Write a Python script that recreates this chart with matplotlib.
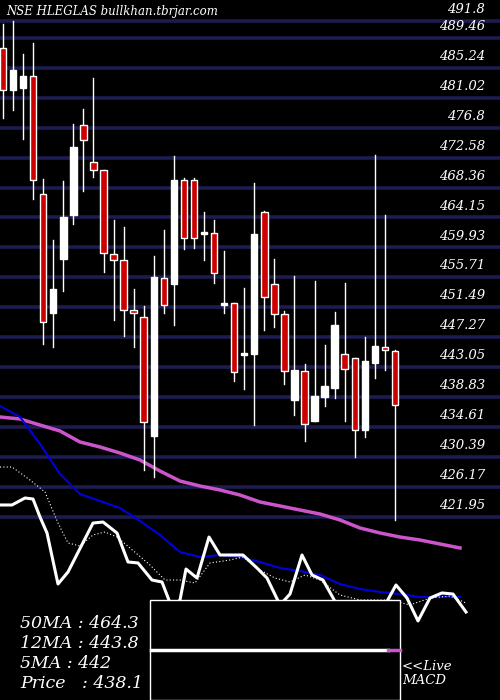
import numpy as np
import matplotlib
matplotlib.use("Agg")
import matplotlib.pyplot as plt
from matplotlib.patches import Rectangle

opens  = [488.00,482.09,482.37,484.06,467.45,450.71,458.31,464.50,477.16,471.96,470.83,459.01,458.17,451.13,450.15,433.40,455.63,454.79,469.42,469.42,
          461.83,461.97,451.84,452.12,444.80,444.94,464.92,454.79,450.57,438.47,442.55,435.51,438.89,440.16,444.94,444.38,434.25,443.68,445.93,445.36]
highs  = [491.37,491.80,487.15,488.70,469.56,460.98,469.28,477.30,479.41,483.78,470.83,463.80,462.81,454.09,451.70,458.73,462.39,472.80,469.71,469.71,
          464.92,463.80,459.43,452.12,454.23,469.00,465.06,458.31,450.99,455.92,443.54,455.21,446.21,450.85,454.93,444.38,447.34,472.94,464.50,445.50]
lows   = [478.15,479.27,475.19,466.75,446.35,445.93,453.81,463.23,467.88,469.85,456.48,449.73,447.47,445.93,428.62,427.64,450.71,449.02,459.72,459.86,
          458.17,454.93,450.71,441.14,440.02,434.95,448.32,448.74,440.72,436.36,432.70,435.51,437.63,438.75,435.51,430.45,433.26,441.57,442.69,421.59]
closes = [482.09,484.90,484.06,469.42,449.45,454.09,464.22,474.07,475.05,470.83,459.15,458.17,451.13,450.71,435.37,455.78,451.84,469.42,461.26,461.26,
          461.97,456.34,452.12,442.41,445.08,461.83,452.96,450.57,442.55,442.69,435.09,439.03,440.44,449.02,442.83,434.25,443.96,446.07,445.50,437.77]

ma50 = [436.08,435.80,434.95,434.11,432.56,431.86,431.01,430.03,428.48,427.07,426.37,425.81,425.10,424.12,423.56,422.99,422.43,421.59,420.46,419.76,419.19,418.77,418.21,417.65]
ma12 = [437.63,436.08,432.28,428.06,425.24,424.26,423.27,421.45,419.48,417.08,416.38,416.66,416.38,415.68,414.83,414.41,413.85,412.58,411.88,411.46,411.17,410.75,410.75,410.75]
white_px = [0,12,25,33,40,47,58,68,93,103,117,128,138,152,162,172,180,186,197,209,220,243,257,267,280,290,302,312,323,337,360,385,396,407,418,430,442,453,466]
white_v = [423.70,423.70,424.68,424.54,422.01,419.76,412.58,414.27,421.16,421.30,419.76,415.68,415.54,413.14,412.86,409.20,410.33,414.69,413.42,419.19,416.66,416.66,414.83,413.42,409.63,411.17,416.66,413.85,413.14,409.63,408.22,409.63,412.44,410.61,407.38,410.61,411.32,411.17,408.64]
dot_px = [0,12,30,45,58,68,80,93,105,117,130,150,165,180,195,210,230,243,260,275,290,305,320,340,360,390,410,430,450,466]
dot_v = [429.04,429.04,427.21,425.53,421.16,418.35,417.93,419.48,419.90,419.19,417.65,415.25,413.14,413.14,412.72,415.54,415.96,416.38,414.55,413.42,412.86,413.85,413.14,411.03,410.33,410.33,409.63,410.61,410.89,409.91]
grid_levels = [491.8,489.46,485.24,481.02,476.8,472.58,468.36,464.15,459.93,455.71,451.49,447.27,443.05,438.83,434.61,430.39,426.17,421.95]
grid_labels = ["491.8","489.46","485.24","481.02","476.8","472.58","468.36","464.15","459.93","455.71","451.49","447.27","443.05","438.83","434.61","430.39","426.17","421.95"]
info = ["50MA : 464.3","12MA : 443.8","5MA : 442","Price   : 438.1"]

PX = 10.05
def px2x(p):
    return (np.asarray(p) - 3) / PX

fig = plt.figure(figsize=(5,7), dpi=100, facecolor="black")
ax = fig.add_axes([0,0,1,1])
ax.set_facecolor("black")
ax.set_xlim(px2x(0), px2x(500))
ax.set_ylim(494.75-0.1407*700, 494.75)
ax.axis("off")

for g in grid_levels:
    ax.axhline(g, color="#1c1c50", lw=2.6, zorder=1)
for g, l in zip(grid_levels, grid_labels):
    ax.text(px2x(485), g+0.7, l, color="white", ha="right", va="bottom",
            fontsize=9.5, family="DejaVu Serif", style="italic", zorder=5)

ax.plot(np.linspace(px2x(0), px2x(460), len(ma50)), ma50, color="#cc55cc", lw=2.5, zorder=3)
ax.plot(np.linspace(px2x(0), px2x(460), len(ma12)), ma12, color="#0000dd", lw=1.5, zorder=3)
ax.plot(px2x(dot_px), dot_v, color="white", lw=0.8, ls=(0,(1,2)), zorder=3)
ax.plot(px2x(white_px), white_v, color="white", lw=2.2, zorder=3)

for i,(o,h,l,c) in enumerate(zip(opens,highs,lows,closes)):
    ax.plot([i,i],[l,h], color="white", lw=1, zorder=4)
    fc = "white" if c >= o else "#cc0000"
    lo, hi = min(o,c), max(o,c)
    ax.add_patch(Rectangle((i-0.32, lo), 0.64, max(hi-lo,0.25), facecolor=fc,
                           edgecolor="white", lw=1, zorder=4))

fig.text(0.012, 0.983, "NSE HLEGLAS bullkhan.tbrjar.com", color="white", fontsize=8.5,
         family="DejaVu Serif", style="italic", va="center")
for k, t in enumerate(info):
    fig.text(0.04, (700-624-20*k)/700, t, color="white", fontsize=12.5,
             family="DejaVu Serif", style="italic", va="center")

fig.patches.append(Rectangle((150/500,0), 250/500, 100/700, transform=fig.transFigure,
                             facecolor="black", edgecolor="white", lw=1, zorder=10))
fig.lines.append(plt.Line2D([151/500,388/500],[50/700,50/700], transform=fig.transFigure, color="white", lw=2.5, zorder=11))
fig.lines.append(plt.Line2D([388/500,400/500],[50/700,50/700], transform=fig.transFigure, color="#cc55cc", lw=2.5, zorder=11))
fig.text(402/500, (700-666)/700, "<<Live", color="white", fontsize=9.5, family="DejaVu Serif", style="italic", va="center")
fig.text(402/500, (700-681)/700, "MACD", color="white", fontsize=9.5, family="DejaVu Serif", style="italic", va="center")

fig.savefig("out.png", dpi=100, facecolor="black")
